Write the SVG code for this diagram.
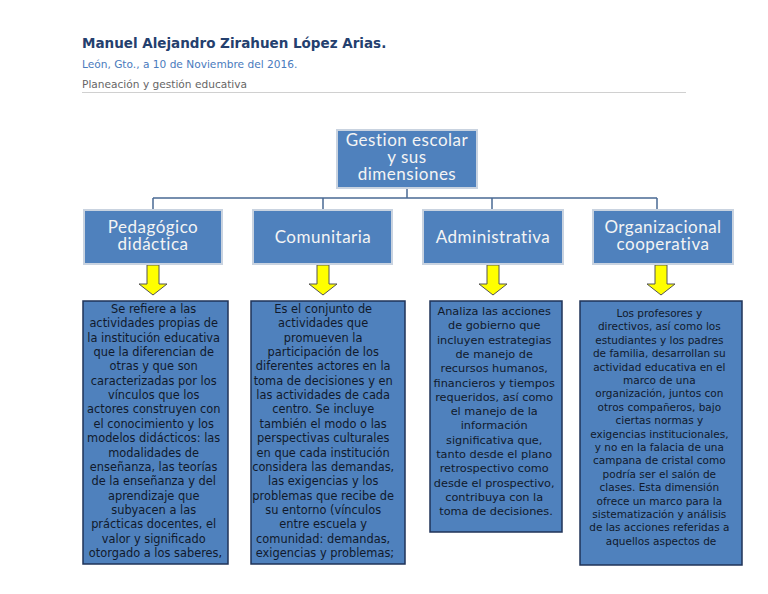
<svg xmlns="http://www.w3.org/2000/svg" width="768" height="594" viewBox="0 0 768 594">
<style>
.hdr{font-family:"DejaVu Sans",sans-serif}
.title{font-size:13.5px;font-weight:bold;fill:#24406e}
.sub{font-size:10.6px;fill:#4a7bbd}
.sub2{font-size:10.6px;fill:#666}
.box{fill:#4f81bd;stroke:#c9d3e0;stroke-width:2}
.lbl{font-family:Lato,"Open Sans",sans-serif;font-size:17px;letter-spacing:0.5px;fill:#f4f4f4;text-anchor:middle}
.tbox{fill:#4f81bd;stroke:#1f3358;stroke-width:1.5}
.body{font-family:"DejaVu Sans",sans-serif;fill:#111a2c;text-anchor:middle}
.b1{font-size:11.4px}
.b2{font-size:11.4px}
.b3{font-size:11.3px}
.b4{font-size:10.5px}
.conn{fill:none;stroke:#4a6a94;stroke-width:1.5}
.arrow{fill:#ffff00;stroke:#555;stroke-width:1}
</style>
<g id="header" class="hdr">
<text class="title" x="82" y="48">Manuel Alejandro Zirahuen López Arias.</text>
<text class="sub" x="82" y="68">León, Gto., a 10 de Noviembre del 2016.</text>
<text class="sub2" x="82" y="88">Planeación y gestión educativa</text>
<line x1="82" y1="92.5" x2="686" y2="92.5" stroke="#d0d0d0" stroke-width="1"/>
</g>
<g id="connectors">
<path class="conn" d="M407 188V198M153 198H657M153 198V210M323 198V210M492 198V210M657 198V210"/>
<path class="arrow" d="M147 265H159V284H167L153 295L139 284H147Z"/>
<path class="arrow" d="M317 265H329V284H337L323 295L309 284H317Z"/>
<path class="arrow" d="M487 265H499V284H507L493 295L479 284H487Z"/>
<path class="arrow" d="M655 265H667V284H675L661 295L647 284H655Z"/>
</g>
<g id="root">
<rect class="box" x="337" y="130" width="140" height="58"/>
<text class="lbl" x="407" y="146">Gestion escolar</text>
<text class="lbl" x="407" y="163">y sus</text>
<text class="lbl" x="407" y="180">dimensiones</text>
</g>
<g id="pedagogico">
<rect class="box" x="84" y="210" width="138" height="54"/>
<text class="lbl" x="153" y="233">Pedagógico</text>
<text class="lbl" x="153" y="250">didáctica</text>
</g>
<g id="comunitaria">
<rect class="box" x="253" y="210" width="139" height="54"/>
<text class="lbl" x="323" y="243">Comunitaria</text>
</g>
<g id="administrativa">
<rect class="box" x="423" y="210" width="140" height="54"/>
<text class="lbl" x="493" y="243">Administrativa</text>
</g>
<g id="organizacional">
<rect class="box" x="593" y="210" width="140" height="54"/>
<text class="lbl" x="663" y="233">Organizacional</text>
<text class="lbl" x="663" y="250">cooperativa</text>
</g>
<g id="desc-pedagogico">
<rect class="tbox" x="83" y="301" width="145" height="263"/>
<text class="body b1" x="155.5" y="313">
<tspan x="155.5" dy="0">Se refiere a las</tspan>
<tspan x="155.5" dy="14.35">actividades propias de</tspan>
<tspan x="155.5" dy="14.35">la institución educativa</tspan>
<tspan x="155.5" dy="14.35">que la diferencian de</tspan>
<tspan x="155.5" dy="14.35">otras y que son</tspan>
<tspan x="155.5" dy="14.35">caracterizadas por los</tspan>
<tspan x="155.5" dy="14.35">vínculos que los</tspan>
<tspan x="155.5" dy="14.35">actores construyen con</tspan>
<tspan x="155.5" dy="14.35">el conocimiento y los</tspan>
<tspan x="155.5" dy="14.35">modelos didácticos: las</tspan>
<tspan x="155.5" dy="14.35">modalidades de</tspan>
<tspan x="155.5" dy="14.35">enseñanza, las teorías</tspan>
<tspan x="155.5" dy="14.35">de la enseñanza y del</tspan>
<tspan x="155.5" dy="14.35">aprendizaje que</tspan>
<tspan x="155.5" dy="14.35">subyacen a las</tspan>
<tspan x="155.5" dy="14.35">prácticas docentes, el</tspan>
<tspan x="155.5" dy="14.35">valor y significado</tspan>
<tspan x="155.5" dy="14.35">otorgado a los saberes,</tspan>
</text>
</g>
<g id="desc-comunitaria">
<rect class="tbox" x="251" y="301" width="154" height="263"/>
<text class="body b2" x="325" y="313">
<tspan x="325" dy="0">Es el conjunto de</tspan>
<tspan x="325" dy="14.35">actividades que</tspan>
<tspan x="325" dy="14.35">promueven la</tspan>
<tspan x="325" dy="14.35">participación de los</tspan>
<tspan x="325" dy="14.35">diferentes actores en la</tspan>
<tspan x="325" dy="14.35">toma de decisiones y en</tspan>
<tspan x="325" dy="14.35">las actividades de cada</tspan>
<tspan x="325" dy="14.35">centro. Se incluye</tspan>
<tspan x="325" dy="14.35">también el modo o las</tspan>
<tspan x="325" dy="14.35">perspectivas culturales</tspan>
<tspan x="325" dy="14.35">en que cada institución</tspan>
<tspan x="325" dy="14.35">considera las demandas,</tspan>
<tspan x="325" dy="14.35">las exigencias y los</tspan>
<tspan x="325" dy="14.35">problemas que recibe de</tspan>
<tspan x="325" dy="14.35">su entorno (vínculos</tspan>
<tspan x="325" dy="14.35">entre escuela y</tspan>
<tspan x="325" dy="14.35">comunidad: demandas,</tspan>
<tspan x="325" dy="14.35">exigencias y problemas;</tspan>
</text>
</g>
<g id="desc-administrativa">
<rect class="tbox" x="430" y="301" width="132" height="231"/>
<text class="body b3" x="496" y="315">
<tspan x="496" dy="0">Analiza las acciones</tspan>
<tspan x="496" dy="14.3">de gobierno que</tspan>
<tspan x="496" dy="14.3">incluyen estrategias</tspan>
<tspan x="496" dy="14.3">de manejo de</tspan>
<tspan x="496" dy="14.3">recursos humanos,</tspan>
<tspan x="496" dy="14.3">financieros y tiempos</tspan>
<tspan x="496" dy="14.3">requeridos, así como</tspan>
<tspan x="496" dy="14.3">el manejo de la</tspan>
<tspan x="496" dy="14.3">información</tspan>
<tspan x="496" dy="14.3">significativa que,</tspan>
<tspan x="496" dy="14.3">tanto desde el plano</tspan>
<tspan x="496" dy="14.3">retrospectivo como</tspan>
<tspan x="496" dy="14.3">desde el prospectivo,</tspan>
<tspan x="496" dy="14.3">contribuya con la</tspan>
<tspan x="496" dy="14.3">toma de decisiones.</tspan>
</text>
</g>
<g id="desc-organizacional">
<rect class="tbox" x="580" y="301" width="162" height="264"/>
<text class="body b4" x="661" y="317">
<tspan x="661" dy="0">Los profesores y</tspan>
<tspan x="661" dy="13.4">directivos, así como los</tspan>
<tspan x="661" dy="13.4">estudiantes y los padres</tspan>
<tspan x="661" dy="13.4">de familia, desarrollan su</tspan>
<tspan x="661" dy="13.4">actividad educativa en el</tspan>
<tspan x="661" dy="13.4">marco de una</tspan>
<tspan x="661" dy="13.4">organización, juntos con</tspan>
<tspan x="661" dy="13.4">otros compañeros, bajo</tspan>
<tspan x="661" dy="13.4">ciertas normas y</tspan>
<tspan x="661" dy="13.4">exigencias institucionales,</tspan>
<tspan x="661" dy="13.4">y no en la falacia de una</tspan>
<tspan x="661" dy="13.4">campana de cristal como</tspan>
<tspan x="661" dy="13.4">podría ser el salón de</tspan>
<tspan x="661" dy="13.4">clases. Esta dimensión</tspan>
<tspan x="661" dy="13.4">ofrece un marco para la</tspan>
<tspan x="661" dy="13.4">sistematización y análisis</tspan>
<tspan x="661" dy="13.4">de las acciones referidas a</tspan>
<tspan x="661" dy="13.4">aquellos aspectos de</tspan>
</text>
</g>
</svg>
